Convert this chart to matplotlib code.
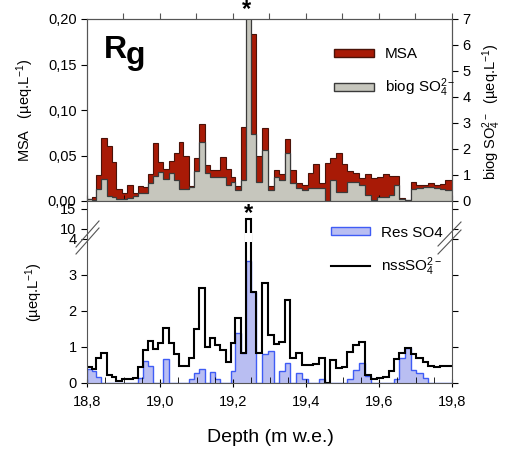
import matplotlib
matplotlib.use("Agg")
import matplotlib.pyplot as plt
import numpy as np
from matplotlib.patches import Patch
from matplotlib.lines import Line2D

plt.rcParams['font.family'] = ['Liberation Sans', 'DejaVu Sans']
plt.rcParams['mathtext.fontset'] = 'custom'
plt.rcParams['mathtext.rm'] = 'Liberation Sans'
plt.rcParams['mathtext.it'] = 'Liberation Sans:italic'
plt.rcParams['mathtext.bf'] = 'Liberation Sans:bold'

# sample depth boundaries (m w.e.)
depth_edges = [18.800, 18.813, 18.826, 18.838, 18.854, 18.868, 18.879, 18.895, 18.910, 18.925,
               18.939, 18.953, 18.968, 18.982, 18.995, 19.009, 19.024, 19.039, 19.052, 19.064,
               19.079, 19.094, 19.107, 19.123, 19.138, 19.152, 19.164, 19.180, 19.194, 19.206,
               19.221, 19.236, 19.248, 19.264, 19.279, 19.295, 19.311, 19.326, 19.342, 19.357,
               19.373, 19.389, 19.405, 19.420, 19.435, 19.451, 19.467, 19.482, 19.498, 19.512,
               19.529, 19.545, 19.563, 19.578, 19.595, 19.610, 19.627, 19.642, 19.656, 19.671,
               19.687, 19.702, 19.720, 19.735, 19.750, 19.767, 19.781, 19.800]

# MSA (ueq/L), left axis of top panel
msa = [0.002, 0.004, 0.029, 0.069, 0.060, 0.043, 0.013, 0.009, 0.018, 0.009,
       0.016, 0.015, 0.030, 0.064, 0.043, 0.035, 0.044, 0.053, 0.065, 0.049,
       0.016, 0.047, 0.085, 0.040, 0.034, 0.034, 0.048, 0.035, 0.026, 0.016,
       0.081, 0.060, 0.183, 0.049, 0.080, 0.016, 0.034, 0.030, 0.068, 0.034,
       0.020, 0.018, 0.031, 0.041, 0.020, 0.042, 0.047, 0.053, 0.041, 0.033,
       0.031, 0.025, 0.030, 0.025, 0.026, 0.030, 0.027, 0.027, 0.003, 0.001,
       0.021, 0.018, 0.018, 0.020, 0.018, 0.019, 0.023]

# biogenic SO4 2- (ueq/L), right axis of top panel
biog_so4 = [0.07, 0.05, 0.47, 0.86, 0.20, 0.16, 0.08, 0.08, 0.10, 0.20,
            0.31, 0.30, 0.70, 0.98, 1.13, 0.86, 1.09, 0.82, 0.47, 0.47,
            0.54, 1.17, 2.27, 1.09, 0.93, 0.93, 0.93, 0.62, 0.74, 0.43,
            0.82, 7.50, 2.57, 0.74, 1.98, 0.43, 0.93, 0.82, 1.83, 0.70,
            0.50, 0.43, 0.50, 0.50, 0.50, 0.00, 0.82, 0.35, 0.35, 0.74,
            0.74, 0.62, 0.23, 0.04, 0.16, 0.16, 0.23, 0.62, 0.08, 0.04,
            0.45, 0.50, 0.55, 0.55, 0.50, 0.47, 0.43]

# nss SO4 2- (ueq/L), bottom panel
nss_so4 = [0.45, 0.40, 0.69, 0.84, 0.22, 0.18, 0.06, 0.10, 0.10, 0.15,
           0.45, 0.92, 1.18, 0.94, 1.10, 1.52, 1.10, 0.81, 0.48, 0.48,
           0.69, 1.49, 2.63, 0.99, 1.24, 1.06, 0.92, 0.59, 1.10, 1.81,
           0.82, 12.5, 2.52, 0.82, 2.77, 1.33, 1.07, 1.15, 2.31, 0.70,
           0.82, 0.50, 0.50, 0.53, 0.70, 0.00, 0.64, 0.41, 0.45, 0.87,
           1.06, 1.15, 0.22, 0.10, 0.15, 0.18, 0.33, 0.67, 0.82, 0.96,
           0.80, 0.69, 0.59, 0.48, 0.45, 0.48, 0.48]

# residual SO4 (ueq/L), bottom panel
res_so4 = [0.40, 0.33, 0.18, 0.00, 0.00, 0.00, 0.00, 0.00, 0.00, 0.00,
           0.15, 0.61, 0.48, 0.00, 0.00, 0.67, 0.00, 0.00, 0.00, 0.00,
           0.10, 0.27, 0.39, 0.00, 0.30, 0.12, 0.00, 0.00, 0.33, 1.38,
           0.82, 3.40, 2.52, 0.00, 0.80, 0.89, 0.00, 0.33, 0.55, 0.00,
           0.27, 0.10, 0.00, 0.00, 0.10, 0.00, 0.00, 0.00, 0.00, 0.10,
           0.36, 0.56, 0.20, 0.00, 0.00, 0.00, 0.00, 0.12, 0.69, 0.96,
           0.36, 0.27, 0.15, 0.00, 0.00, 0.00, 0.00]

x_major = [18.8, 19.0, 19.2, 19.4, 19.6, 19.8]
x_labels = ["18,8", "19,0", "19,2", "19,4", "19,6", "19,8"]
msa_ticks = [0, 0.05, 0.10, 0.15, 0.20]
msa_labels = ["0,00", "0,05", "0,10", "0,15", "0,20"]
biog_ticks = [0, 1, 2, 3, 4, 5, 6, 7]
low_ticks = [0, 1, 2, 3, 4, 10, 15]

red = "#a81a06"
grey = "#c6c6bd"
blue_fill = "#b9bef2"
blue_edge = "#3f5cf5"

W, H = 507, 462
fig = plt.figure(figsize=(W / 100, H / 100), dpi=100)


def fx(px):
    return px / W


def fy(py):
    return 1 - py / H


# ---- top panel
ax1 = fig.add_axes([fx(87), fy(201), fx(452) - fx(87), fy(19) - fy(201)])
ax1.stairs(msa, depth_edges, fill=True, facecolor=red, edgecolor="#4a1208", linewidth=0.8)
ax1.set_xlim(18.8, 19.8)
ax1.set_ylim(0, 0.2)
ax1.set_yticks(msa_ticks)
ax1.set_yticklabels(msa_labels, fontsize=10.5)
ax1.set_xticks(x_major)
ax1.set_xticks(np.arange(18.8, 19.81, 0.05), minor=True)
ax1.tick_params(axis="x", which="both", direction="in", labelbottom=False, length=4)
ax1.tick_params(axis="y", direction="out", length=4)
for s in ax1.spines.values():
    s.set_color("#555555")

ax1r = ax1.twinx()
ax1r.stairs(biog_so4, depth_edges, fill=True, facecolor=grey, edgecolor="#3a3a3a", linewidth=0.9)
ax1r.set_ylim(0, 7)
ax1r.set_yticks(biog_ticks)
ax1r.tick_params(axis="y", direction="out", length=4, labelsize=10.5)
for s in ax1r.spines.values():
    s.set_color("#555555")

top = ax1.secondary_xaxis("top")
top.set_xticks(np.arange(18.9, 19.81, 0.1))
top.tick_params(direction="out", length=4, labeltop=False, color="#555555")
top.spines["top"].set_visible(False)

ax1r.legend(handles=[Patch(facecolor=red, edgecolor="#4a1208"),
                     Patch(facecolor=grey, edgecolor="#3a3a3a")],
            labels=["MSA", "biog SO$_4^{2-}$"],
            loc="upper left", bbox_to_anchor=(0.64, 0.92), frameon=False,
            fontsize=11, handlelength=2.6, handleheight=0.45,
            handletextpad=0.7, labelspacing=1.0)

fig.text(fx(104), fy(58), "R", fontsize=23, fontweight="bold", va="baseline")
fig.text(fx(126), fy(64), "g", fontsize=23, fontweight="bold", va="baseline")


# ---- bottom panel with broken axis
def fwd(y):
    y = np.asarray(y, dtype=float)
    return np.where(y <= 4, y,
                    np.where(y < 10, 4 + (y - 4) * 0.278 / 6, 4.278 + (y - 10) * 0.111))


def inv(t):
    t = np.asarray(t, dtype=float)
    return np.where(t <= 4, t,
                    np.where(t < 4.278, 4 + (t - 4) * 6 / 0.278, 10 + (t - 4.278) / 0.111))


ax2 = fig.add_axes([fx(87), fy(383), fx(452) - fx(87), fy(201) - fy(383)])
ax2.set_yscale("function", functions=(fwd, inv))
ax2.stairs(res_so4, depth_edges, fill=True, facecolor=blue_fill, edgecolor=blue_edge, linewidth=1.0)
ax2.stairs(nss_so4, depth_edges, baseline=None, color="black", linewidth=1.5)
ax2.set_xlim(18.8, 19.8)
ax2.set_ylim(0, 17)
ax2.set_yticks(low_ticks)
ax2.set_yticklabels([str(t) for t in low_ticks], fontsize=10.5)
ax2.yaxis.set_minor_locator(matplotlib.ticker.NullLocator())
ax2.set_xticks(x_major)
ax2.set_xticklabels(x_labels, fontsize=10.5)
ax2.set_xticks(np.arange(18.8, 19.81, 0.05), minor=True)
ax2.tick_params(axis="x", which="major", direction="inout", length=6, pad=6)
ax2.tick_params(axis="x", which="minor", direction="in", length=4)
ax2.tick_params(axis="y", direction="out", length=4, right=True)
for s in ax2.spines.values():
    s.set_color("#555555")

# white gap across the broken part of the peak
ax2.fill_between([depth_edges[31] - 0.004, depth_edges[32] + 0.004], 3.92, 7.6,
                 color="white", zorder=5, linewidth=0)

ax2.legend(handles=[Patch(facecolor=blue_fill, edgecolor=blue_edge),
                    Line2D([], [], color="black", linewidth=1.5)],
           labels=["Res SO4", "nssSO$_4^{2-}$"],
           loc="upper left", bbox_to_anchor=(0.63, 0.94), frameon=False,
           fontsize=11, handlelength=2.6, handleheight=0.45,
           handletextpad=0.7, labelspacing=1.0)

# break marks
for x0, y0, x1, y1 in [(76, 254, 99, 228), (76, 247, 99, 221),
                       (438, 246, 461, 222), (438, 254, 461, 230)]:
    fig.add_artist(Line2D([fx(x0), fx(x1)], [fy(y0), fy(y1)], color="#555555", linewidth=0.8))

# asterisks on the clipped peak
fig.text(fx(247), fy(10), "*", fontsize=17, fontweight="bold", ha="center", va="center")
fig.text(fx(248), fy(214), "*", fontsize=17, fontweight="bold", ha="center", va="center")

# axis labels
fig.text(fx(25), fy(110), "MSA   (µeq.L$^{-1}$)", rotation=90, fontsize=10.5, ha="center", va="center")
fig.text(fx(34), fy(292), "(µeq.L$^{-1}$)", rotation=90, fontsize=10.5, ha="center", va="center")
fig.text(fx(492), fy(112), "biog SO$_4^{2-}$  (µeq.L$^{-1}$)", rotation=90, fontsize=10.5,
         ha="center", va="center")
fig.text(fx(270), fy(438), "Depth (m w.e.)", fontsize=14, ha="center", va="center")

fig.savefig("out.png", dpi=100)
